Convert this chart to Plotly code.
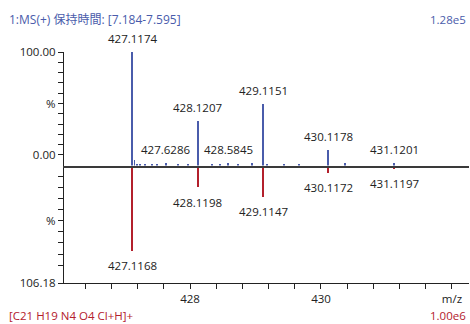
import plotly.graph_objects as go

# Measured spectrum (upper trace): m/z and intensity on the % axis
meas_mz = [427.1174, 427.152, 427.19, 427.24, 427.31, 427.415, 427.50, 427.6286,
           427.82, 427.97, 428.1207, 428.33, 428.46, 428.5845, 428.73, 428.94,
           429.1151, 429.17, 429.44, 429.66, 430.1178, 430.37, 431.1201]
meas_int = [100.0, -4.4, -8.3, -8.3, -8.6, -8.3, -8.6, -7.8,
            -8.3, -8.6, 33.3, -8.3, -8.6, -7.8, -8.6, -8.0,
            49.2, -8.6, -8.8, -8.8, 4.9, -7.6, -7.3]
meas_labels = {"427.1174", "427.6286", "428.1207", "428.5845",
               "429.1151", "430.1178", "431.1201"}

# Theoretical isotope pattern (lower, mirrored trace)
theo_mz = [427.1168, 428.1198, 429.1147, 430.1172, 431.1197]
theo_int = [76.4, 19.2, 27.6, 6.1, 2.3]

top_floor = -10.2
theo_base = 2.2
bottom_max = 106.18

x_ticks = [426.4, 426.8, 427.2, 427.6, 428.0, 428.4, 428.8, 429.2,
           429.6, 430.0, 430.4, 430.8, 431.2, 431.6, 432.0]
x_ticktext = ["", "", "", "", "428", "", "", "", "", "430", "", "", "", "", "m/z"]

top_ticks = [0, 10, 20, 30, 40, 50, 60, 70, 80, 90, 100]
top_ticktext = ["0.00", "", "", "", "", "%", "", "", "", "", "100.00"]
bot_ticks = [10, 20, 30, 40, 50, 60, 70, 80, 90, 106.18]
bot_ticktext = ["", "", "", "", "%", "", "", "", "", "106.18"]

BLUE = "#4a5cab"
RED = "#b3202c"
TXT = "#222222"
FONT = "Open Sans, Noto Sans CJK JP, sans-serif"

# thicker sticks for the labelled peaks, hairlines for the noise
meas_w = [0.024 if f"{m:.4f}" in meas_labels and v > 0 else 0.014
          for m, v in zip(meas_mz, meas_int)]

fig = go.Figure()
fig.add_trace(go.Bar(
    x=meas_mz, y=[v - top_floor for v in meas_int], base=top_floor,
    width=meas_w, marker=dict(color=BLUE, line=dict(width=0)),
    xaxis="x2", yaxis="y2", showlegend=False))
fig.add_trace(go.Bar(
    x=theo_mz, y=[v - theo_base for v in theo_int], base=theo_base,
    width=0.024, marker=dict(color=RED, line=dict(width=0)),
    xaxis="x", yaxis="y", showlegend=False))

anns = []
for m, v in zip(meas_mz, meas_int):
    lab = f"{m:.4f}"
    if lab in meas_labels:
        anns.append(dict(x=m, y=v, xref="x2", yref="y2", text=lab, showarrow=False,
                         xanchor="center", yanchor="bottom", yshift=4,
                         font=dict(size=11.5, color=TXT, family=FONT)))
for m, v in zip(theo_mz, theo_int):
    anns.append(dict(x=m, y=v, xref="x", yref="y", text=f"{m:.4f}", showarrow=False,
                     xanchor="center", yanchor="top", yshift=-6,
                     font=dict(size=11.5, color=TXT, family=FONT)))

PW = 405.0
PH = 231.0
def px_x(p):
    return (p - 64) / PW
def px_y(p):
    return (283 - p) / PH

anns += [
    dict(xref="paper", yref="paper", x=px_x(7), y=px_y(19), text="1:MS(+) 保持時間: [7.184-7.595]",
         showarrow=False, xanchor="left", yanchor="middle",
         font=dict(size=12, color=BLUE, family=FONT)),
    dict(xref="paper", yref="paper", x=px_x(468), y=px_y(19), text="1.28e5",
         showarrow=False, xanchor="right", yanchor="middle",
         font=dict(size=11.5, color=BLUE, family=FONT)),
    dict(xref="paper", yref="paper", x=px_x(7), y=px_y(315), text="[C21 H19 N4 O4 Cl+H]+",
         showarrow=False, xanchor="left", yanchor="middle",
         font=dict(size=11.5, color=RED, family=FONT)),
    dict(xref="paper", yref="paper", x=px_x(468), y=px_y(315), text="1.00e6",
         showarrow=False, xanchor="right", yanchor="middle",
         font=dict(size=11.5, color=RED, family=FONT)),
]

split = 117.5 / PH
xr = [426.076, 432.26]
axis_common = dict(showgrid=False, zeroline=False, showline=True, linecolor="#222222",
                   linewidth=1.2, ticks="outside", ticklen=5, tickwidth=1,
                   tickcolor="#222222", tickfont=dict(size=11.5, color=TXT, family=FONT))

fig.update_layout(
    width=470, height=324,
    margin=dict(l=64, r=1, t=52, b=41),
    paper_bgcolor="white", plot_bgcolor="white",
    bargap=0, barmode="overlay",
    annotations=anns,
    xaxis=dict(range=xr, anchor="y", tickvals=x_ticks, ticktext=x_ticktext, **axis_common),
    xaxis2=dict(range=xr, anchor="y2", matches="x", showgrid=False, zeroline=False,
                showline=True, linecolor="#3a3a3a", linewidth=1.5,
                ticks="", showticklabels=False),
    yaxis=dict(domain=[0, split], range=[bottom_max, 0], anchor="x",
               tickvals=bot_ticks, ticktext=bot_ticktext, **axis_common),
    yaxis2=dict(domain=[split, 1], range=[top_floor, 100], anchor="x2",
                tickvals=top_ticks, ticktext=top_ticktext, **axis_common),
)

fig.write_html("out.html")
